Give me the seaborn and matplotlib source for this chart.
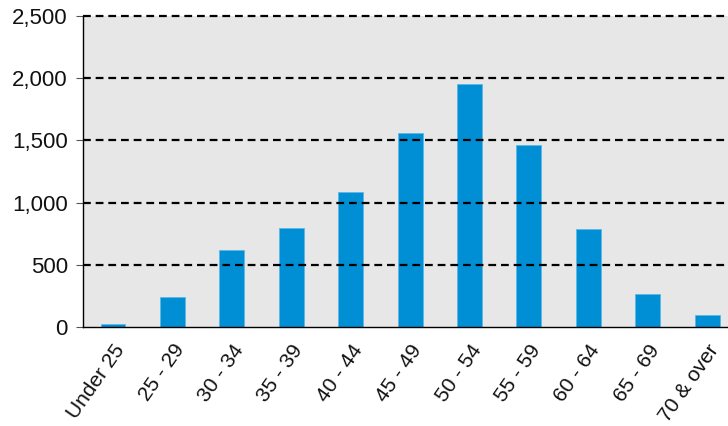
import matplotlib
matplotlib.use("Agg")
import matplotlib.pyplot as plt
import matplotlib.transforms as mtransforms
import seaborn as sns
import pandas as pd

age_groups = ["Under 25", "25 - 29", "30 - 34", "35 - 39", "40 - 44", "45 - 49",
              "50 - 54", "55 - 59", "60 - 64", "65 - 69", "70 & over"]
counts = [25, 245, 615, 796, 1085, 1563, 1953, 1463, 788, 265, 96]
y_ticks = [0, 500, 1000, 1500, 2000, 2500]

sns.set_theme(style="white")
plt.rcParams["font.family"] = ["Liberation Sans", "DejaVu Sans"]

df = pd.DataFrame({"age": age_groups, "count": counts})

fig = plt.figure(figsize=(7.28, 4.26), dpi=100)
ax = fig.add_axes([0.114, 0.2324, 0.886, 0.73])
ax.set_facecolor("#e7e7e7")

sns.barplot(data=df, x="age", y="count", color="#008fd5", saturation=1,
            width=0.42, edgecolor="#5cb8e6", linewidth=0.6, ax=ax, zorder=2)

ax.set_ylim(0, 2500)
ax.set_xlim(-0.505, 10.35)
ax.set_yticks(y_ticks)
ax.set_yticklabels([f"{v:,}" for v in y_ticks], fontsize=16, color="#111111")
ax.set_xticks(range(len(age_groups)))
ax.set_xticklabels(age_groups, rotation=55, ha="right", va="top",
                   rotation_mode="anchor", fontsize=15, color="#111111")
# nudge the rotated category labels slightly left
shift = mtransforms.ScaledTranslation(-4 / 100, 0, fig.dpi_scale_trans)
for lbl in ax.get_xticklabels():
    lbl.set_transform(lbl.get_transform() + shift)
ax.set_xlabel("")
ax.set_ylabel("")

for v in y_ticks[1:]:
    ax.axhline(v, color="black", linestyle=(0, (3.5, 2.2)), linewidth=1.6,
               zorder=3, clip_on=False)

for side in ["top", "right"]:
    ax.spines[side].set_visible(False)
for side in ["left", "bottom"]:
    ax.spines[side].set_color("black")
    ax.spines[side].set_linewidth(1.0)
    ax.spines[side].set_zorder(4)

ax.tick_params(axis="y", left=True, length=5, width=0.8, color="#555555", pad=6)
ax.tick_params(axis="x", bottom=False, pad=4)

fig.savefig("out.png", dpi=100)
